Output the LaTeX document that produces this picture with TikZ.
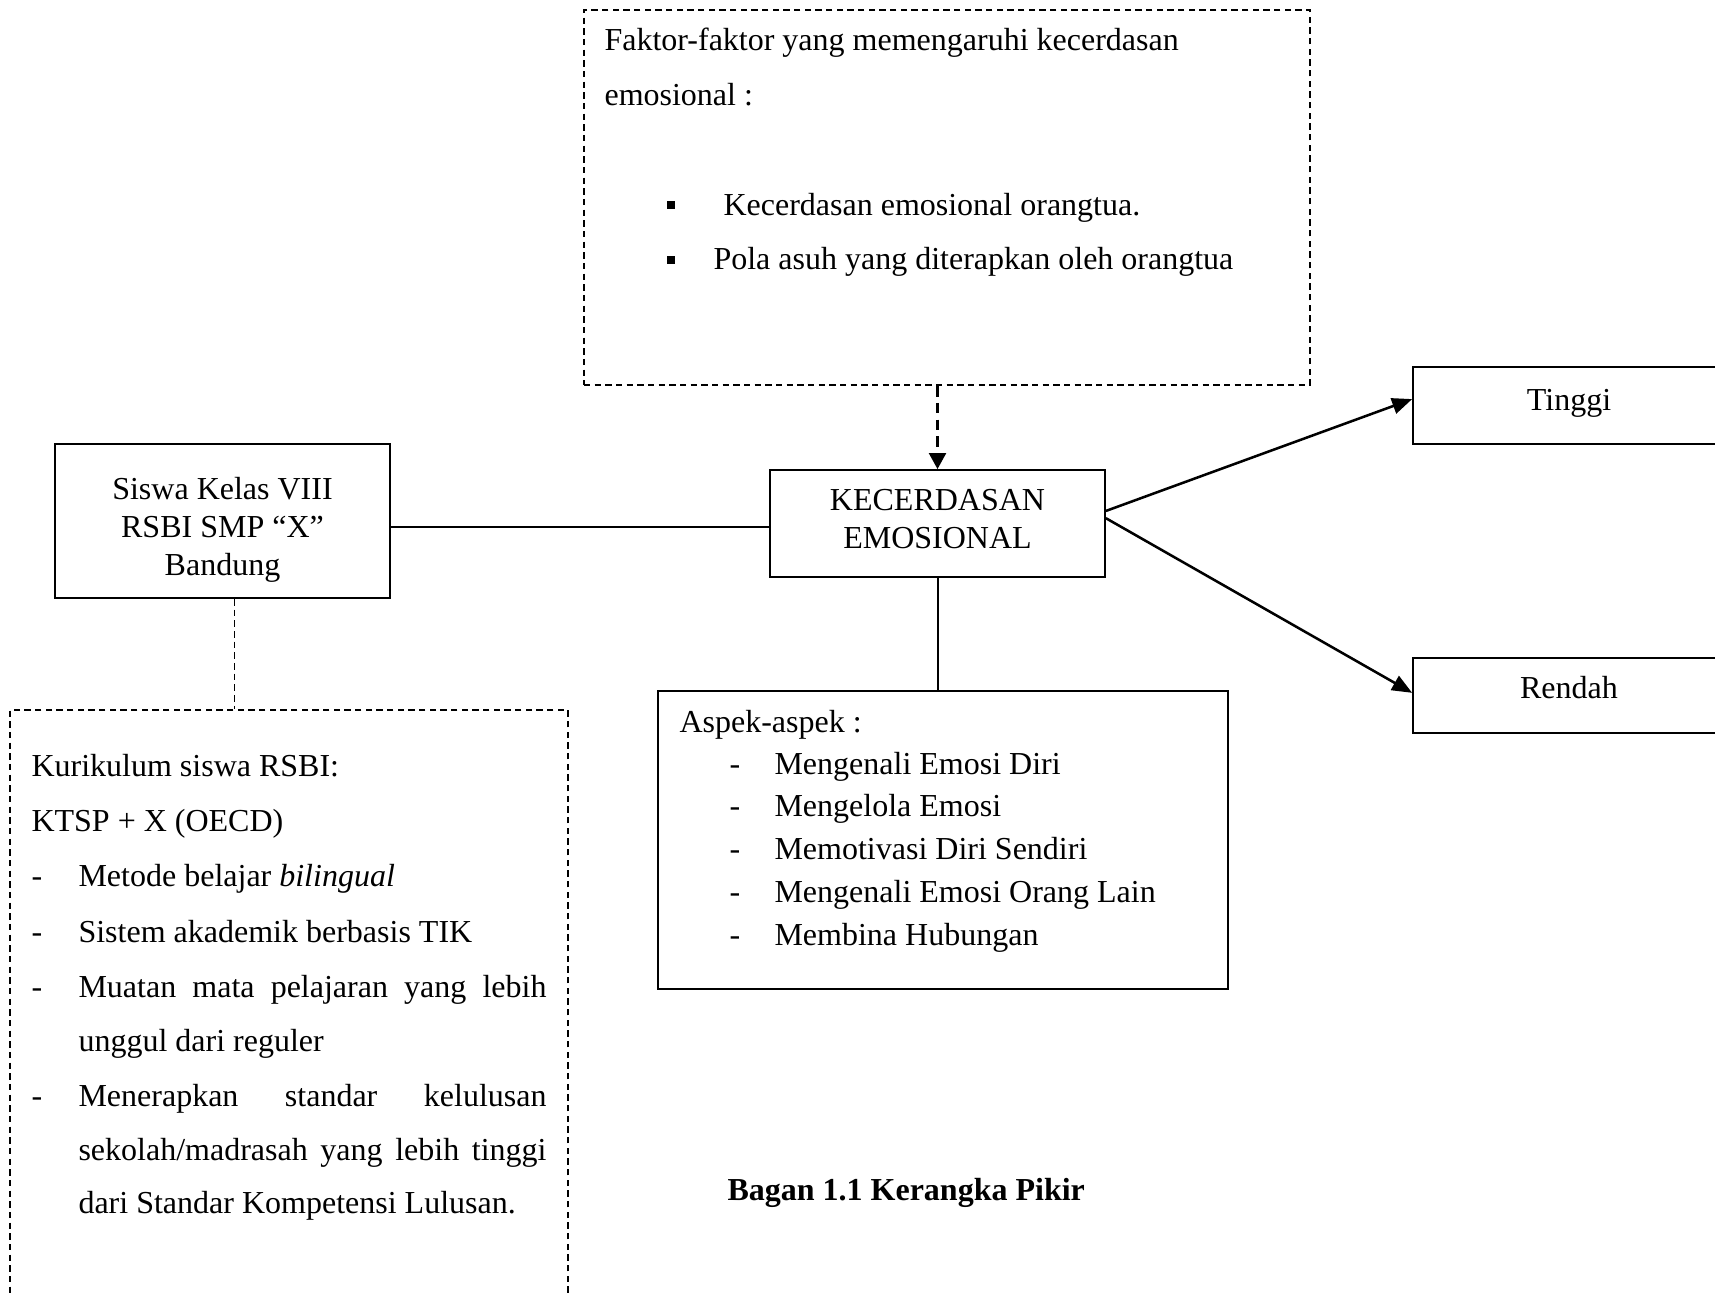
\documentclass[tikz,border=0pt]{standalone}
\usepackage{fontspec}
\setmainfont{Liberation Serif}
\usetikzlibrary{arrows.meta}
\begin{document}
\begin{tikzpicture}[x=0.375pt,y=-0.375pt,
  every node/.style={font=\fontsize{12pt}{14.25pt}\selectfont},
  solidbox/.style={draw,line width=0.65pt,inner sep=0pt},
  dashbox/.style={draw,line width=0.75pt,inner sep=0pt,dash pattern=on 2.4pt off 1.6pt},
  txt/.style={inner sep=0pt,anchor=mid west},
  ctxt/.style={inner sep=0pt,align=center},
  sq/.style={fill,inner sep=0pt,minimum size=3pt},
  conn/.style={line width=0.75pt},
  arr/.style={line width=0.95pt,-{Triangle[length=7.5pt,width=6pt]}}
]
\clip (0,0) rectangle (1715,1293);
\fill[white] (0,0) rectangle (1715,1293);

% boxes
\node[dashbox,minimum width=726*0.375pt,minimum height=375*0.375pt] (fak) at (947,197.5) {};
\node[solidbox,minimum width=335*0.375pt,minimum height=107*0.375pt] (ke) at (937.5,523.5) {};
\node[ctxt] (ketxt) at (937.5,519) {KECERDASAN\\EMOSIONAL};
\node[solidbox,minimum width=335*0.375pt,minimum height=154*0.375pt] (siswa) at (222.5,521) {};
\node[ctxt] (siswatxt) at (222.5,529.5) {Siswa Kelas VIII\\RSBI SMP “X”\\Bandung};
\node[dashbox,minimum width=558*0.375pt,minimum height=590*0.375pt] (kur) at (289,1005) {};
\node[solidbox,minimum width=570*0.375pt,minimum height=298*0.375pt] (asp) at (943,840) {};
\node[solidbox,minimum width=312*0.375pt,minimum height=77*0.375pt] (tinggi) at (1569,405.5) {};
\node[ctxt] (tinggitxt) at (1569,403) {Tinggi};
\node[solidbox,minimum width=312*0.375pt,minimum height=75*0.375pt] (rendah) at (1569,695.5) {};
\node[ctxt] (rendahtxt) at (1569,688) {Rendah};

% top box text
\node[txt] (f1) at (604,44) {Faktor-faktor yang memengaruhi kecerdasan};
\node[txt] (f2) at (604,99) {emosional :};
\node[sq] (b1) at (671,205) {};
\node[txt] (f3) at (723,209) {Kecerdasan emosional orangtua.};
\node[sq] (b2) at (671,260) {};
\node[txt] (f4) at (713,263) {Pola asuh yang diterapkan oleh orangtua};

% aspek text
\node[txt] (a0) at (679,726) {Aspek-aspek :};
\node[txt] (ad1) at (729,768) {-};
\node[txt] (a1) at (774,768) {Mengenali Emosi Diri};
\node[txt] (ad2) at (729,810) {-};
\node[txt] (a2) at (774,810) {Mengelola Emosi};
\node[txt] (ad3) at (729,853) {-};
\node[txt] (a3) at (774,853) {Memotivasi Diri Sendiri};
\node[txt] (ad4) at (729,896) {-};
\node[txt] (a4) at (774,896) {Mengenali Emosi Orang Lain};
\node[txt] (ad5) at (729,939) {-};
\node[txt] (a5) at (774,939) {Membina Hubungan};

% kurikulum text
\node[txt] (k1) at (31,770) {Kurikulum siswa RSBI:};
\node[txt] (k2) at (31,825) {KTSP + X (OECD)};
\node[txt] (kd1) at (31,880) {-};
\node[txt] (k3) at (78,880) {Metode belajar \textit{bilingual}};
\node[txt] (kd2) at (31,936) {-};
\node[txt] (k4) at (78,936) {Sistem akademik berbasis TIK};
\node[txt] (kd3) at (31,991) {-};
\node[txt] (k5) at (78,991) {\makebox[175.5pt][s]{Muatan mata pelajaran yang lebih}};
\node[txt] (k6) at (78,1045) {unggul dari reguler};
\node[txt] (kd4) at (31,1100) {-};
\node[txt] (k7) at (78,1100) {\makebox[175.5pt][s]{Menerapkan standar kelulusan}};
\node[txt] (k8) at (78,1154) {\makebox[175.5pt][s]{sekolah/madrasah yang lebih tinggi}};
\node[txt] (k9) at (78,1207) {dari Standar Kompetensi Lulusan.};

% caption
\node[txt,font=\fontsize{12pt}{14.25pt}\selectfont\bfseries] (cap) at (727,1194) {Bagan 1.1 Kerangka Pikir};

% connectors
\draw[conn] ([yshift=-2.3pt]siswa.east) -- ([yshift=-2.3pt]siswa.east -| ke.west);
\draw[line width=1pt,dash pattern=on 4pt off 2.3pt,-{Triangle[length=6pt,width=6.3pt]}] (ke.north |- fak.south) -- (ke.north);
\draw[conn] (ke.south) -- (ke.south |- asp.north);
\draw[line width=0.7pt,dash pattern=on 2.5pt off 1.5pt] ([xshift=4.5pt]siswa.south) -- ([xshift=4.5pt]siswa.south |- kur.north);
\draw[arr] ([yshift=4.7pt]ke.east) -- ([yshift=2.4pt]tinggi.west);
\draw[arr] ([yshift=2pt]ke.east) -- ([yshift=1pt]rendah.west);
\end{tikzpicture}
\end{document}
